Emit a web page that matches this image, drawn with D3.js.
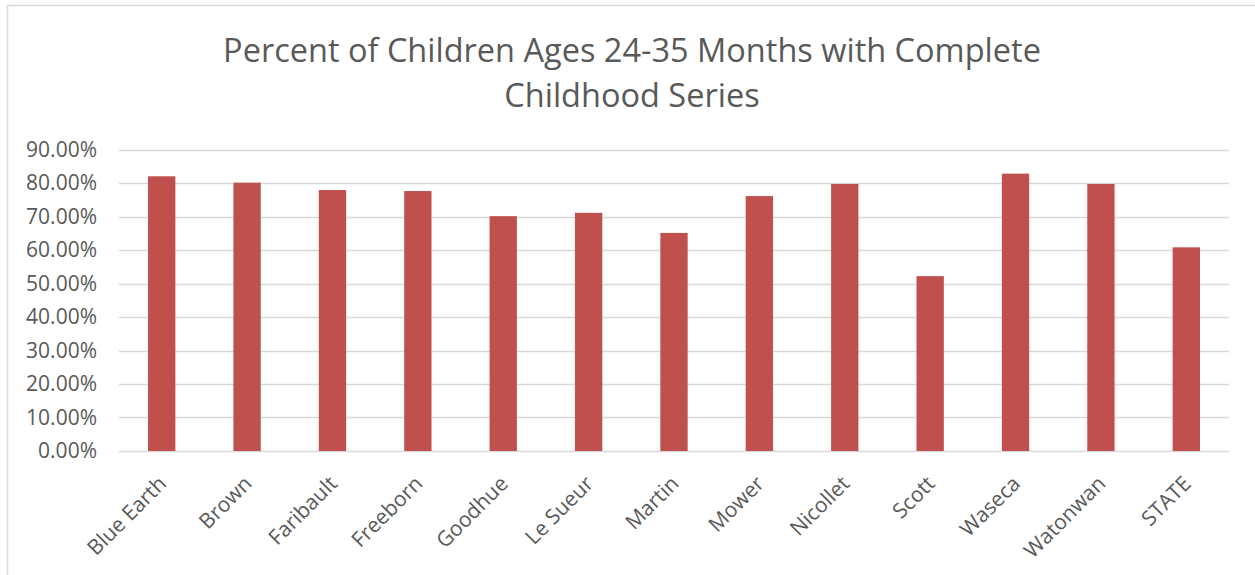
<!DOCTYPE html>
<html><head><meta charset="utf-8">
<script src="https://cdn.jsdelivr.net/npm/d3@7"></script>
<style>
body{margin:0;background:#fff;}
svg{display:block;}
text{font-family:"Open Sans",sans-serif;fill:#595959;}
</style></head>
<body>
<svg id="chart" width="1255" height="575"></svg>
<script>
const categories = ["Blue Earth","Brown","Faribault","Freeborn","Goodhue","Le Sueur","Martin","Mower","Nicollet","Scott","Waseca","Watonwan","STATE"];
const values = [0.820,0.801,0.779,0.776,0.701,0.711,0.651,0.761,0.797,0.522,0.828,0.797,0.608];
const yTicks = [0,0.1,0.2,0.3,0.4,0.5,0.6,0.7,0.8,0.9];
const titleLines = ["Percent of Children Ages 24-35 Months with Complete","Childhood Series"];

const svg = d3.select("#chart");
svg.append("rect").attr("x",7.5).attr("y",5.5).attr("width",1300).attr("height",700)
  .attr("fill","none").attr("stroke","#d9d9d9").attr("stroke-width",1.5);

const x = d3.scaleBand().domain(categories).range([119,1229]).paddingInner(0.68).paddingOuter(0.34);
const y = d3.scaleLinear().domain([0,0.9]).range([451,149.5]);

// gridlines
svg.append("g").selectAll("line").data(yTicks).join("line")
  .attr("x1",119).attr("x2",1229)
  .attr("y1",d=>Math.round(y(d))+0.5).attr("y2",d=>Math.round(y(d))+0.5)
  .attr("stroke","#d9d9d9").attr("stroke-width",1.5);

// y axis labels
const yAxis = d3.axisLeft(y).tickValues(yTicks).tickFormat(d=>(d*100).toFixed(2)+"%").tickSize(0).tickPadding(0);
const ga = svg.append("g").attr("transform","translate(97,0)").call(yAxis);
ga.attr("font-size",null).attr("font-family",null);
ga.select(".domain").remove();
ga.selectAll("text").style("font-size","21px").style("font-family","Open Sans, sans-serif").attr("fill","#595959");

// bars
svg.append("g").selectAll("rect").data(values).join("rect")
  .attr("x",(d,i)=>x(categories[i])).attr("width",x.bandwidth())
  .attr("y",d=>y(d)).attr("height",d=>y(0)-y(d))
  .attr("fill","#c0504d");

// x labels
const xAxis = d3.axisBottom(x).tickSize(0).tickPadding(0);
const gx = svg.append("g").attr("transform","translate(0,451)").call(xAxis);
gx.attr("font-size",null).attr("font-family",null);
gx.select(".domain").remove();
gx.selectAll("text").style("font-size","21px").style("font-family","Open Sans, sans-serif").attr("fill","#595959")
  .attr("text-anchor","end").attr("dy",null).attr("y",0)
  .attr("transform","translate(6,34) rotate(-45)");

// title
svg.append("g").selectAll("text").data(titleLines).join("text")
  .attr("x",632).attr("y",(d,i)=>62+i*45).attr("text-anchor","middle")
  .style("font-size","32.5px").text(d=>d);
</script>
</body></html>
